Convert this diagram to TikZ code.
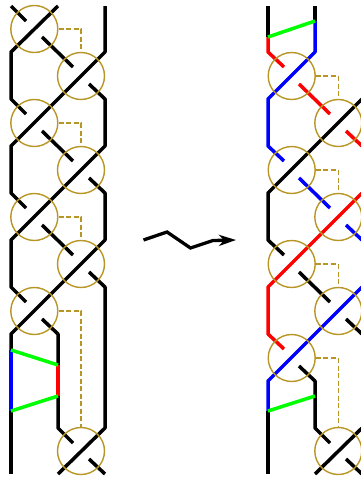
\documentclass[tikz,border=0pt]{standalone}
\usetikzlibrary{arrows.meta}
\definecolor{gold}{RGB}{184,150,38}
\definecolor{brgreen}{RGB}{0,255,0}
\tikzset{
  strand/.style={line width=3.5pt,line join=round,line cap=butt},
  ring/.style={circle,draw=gold,line width=1.4pt,minimum size=47pt,inner sep=0pt},
  link/.style={draw=gold,line width=1.4pt,dash pattern=on 5pt off 2.5pt},
  bk/.style={strand,black},
  rd/.style={strand,red},
  bl/.style={strand,blue},
  gr/.style={strand,brgreen}
}
\begin{document}
\begin{tikzpicture}[x=1pt,y=-1pt]
\useasboundingbox (0,0) rectangle (360,479);
% left braid
\draw[bk] (11,6)--(26,21);
\draw[bk] (58,6)--(11,52)--(11,99)--(26,114);
\draw[bk] (42,37)--(73,67);
\draw[bk] (105,6)--(105,52)--(58,99)--(11,146)--(11,193)--(26,208);
\draw[bk] (89,84)--(105,99)--(105,146)--(58,193)--(11,240)--(11,287)--(26,302);
\draw[bk] (42,131)--(73,161);
\draw[bk] (89,178)--(105,193)--(105,240)--(58,287)--(11,334)--(11,350);
\draw[bk] (42,225)--(73,255);
\draw[bk] (89,272)--(105,287)--(105,428)--(58,474);
\draw[bk] (42,319)--(58,334)--(58,365);
\draw[bk] (58,396)--(58,428)--(73,443);
\draw[bk] (89,459)--(105,474);
\draw[bk] (11,411)--(11,474);
\draw[bl] (11,350)--(11,411);
\draw[rd] (58,365)--(58,396);
\draw[gr] (11,350)--(58,365);
\draw[gr] (11,411)--(58,396);
% right braid
\draw[bk] (268,6)--(268,37);
\draw[bk] (315,6)--(315,21);
\draw[rd] (268,37)--(268,52)--(284,67);
\draw[bl] (315,21)--(315,52)--(268,99)--(268,146)--(284,161);
\draw[gr] (268,37)--(315,21);
\draw[rd] (299,84)--(330,114);
\draw[rd] (346,131)--(362,146);
\draw[bk] (362,99)--(315,146)--(268,193)--(268,240)--(284,255);
\draw[bl] (299,178)--(330,208);
\draw[bl] (346,225)--(362,240);
\draw[rd] (362,193)--(315,240)--(268,287)--(268,334)--(284,349);
\draw[bk] (299,272)--(330,302);
\draw[bk] (346,319)--(362,334);
\draw[bl] (362,287)--(315,334)--(268,381)--(268,411);
\draw[bk] (268,411)--(268,474);
\draw[bk] (299,366)--(315,381)--(315,396);
\draw[bk] (315,396)--(315,428)--(330,443);
\draw[gr] (268,411)--(315,396);
\draw[bk] (362,428)--(315,474);
\draw[bk] (346,459)--(362,474);
% rings
\foreach \n/\x/\y in {a1/34.3/29,a2/81/76,a3/34.3/123,a4/81/170,a5/34.3/217,a6/81/264,a7/34.3/311,a8/81/451,
  b1/291.7/76,b2/338.3/123,b3/291.7/170,b4/338.3/217,b5/291.7/264,b6/338.3/311,b7/291.7/358,b8/338.3/451}
  \node[ring] (\n) at (\x,\y) {};
% dashed links
\draw[link] (a1.east) -| (a2.north);
\draw[link] (a3.east) -| (a4.north);
\draw[link] (a5.east) -| (a6.north);
\draw[link] (a7.east) -| (a8.north);
\draw[link] (b1.east) -| (b2.north);
\draw[link] (b3.east) -| (b4.north);
\draw[link] (b5.east) -| (b6.north);
\draw[link] (b7.east) -| (b8.north);
% arrow
\coordinate (p0) at (143.5,240);
\coordinate (p1) at (167,232);
\coordinate (p2) at (190.5,248);
\coordinate (p3) at (213,240.5);
\coordinate (p4) at (236,240);
\draw[line width=3.3pt,line join=miter,-{Stealth[length=17pt,width=11pt,inset=5pt]}] (p0)--(p1)--(p2)--(p3)--(p4);
\end{tikzpicture}
\end{document}
